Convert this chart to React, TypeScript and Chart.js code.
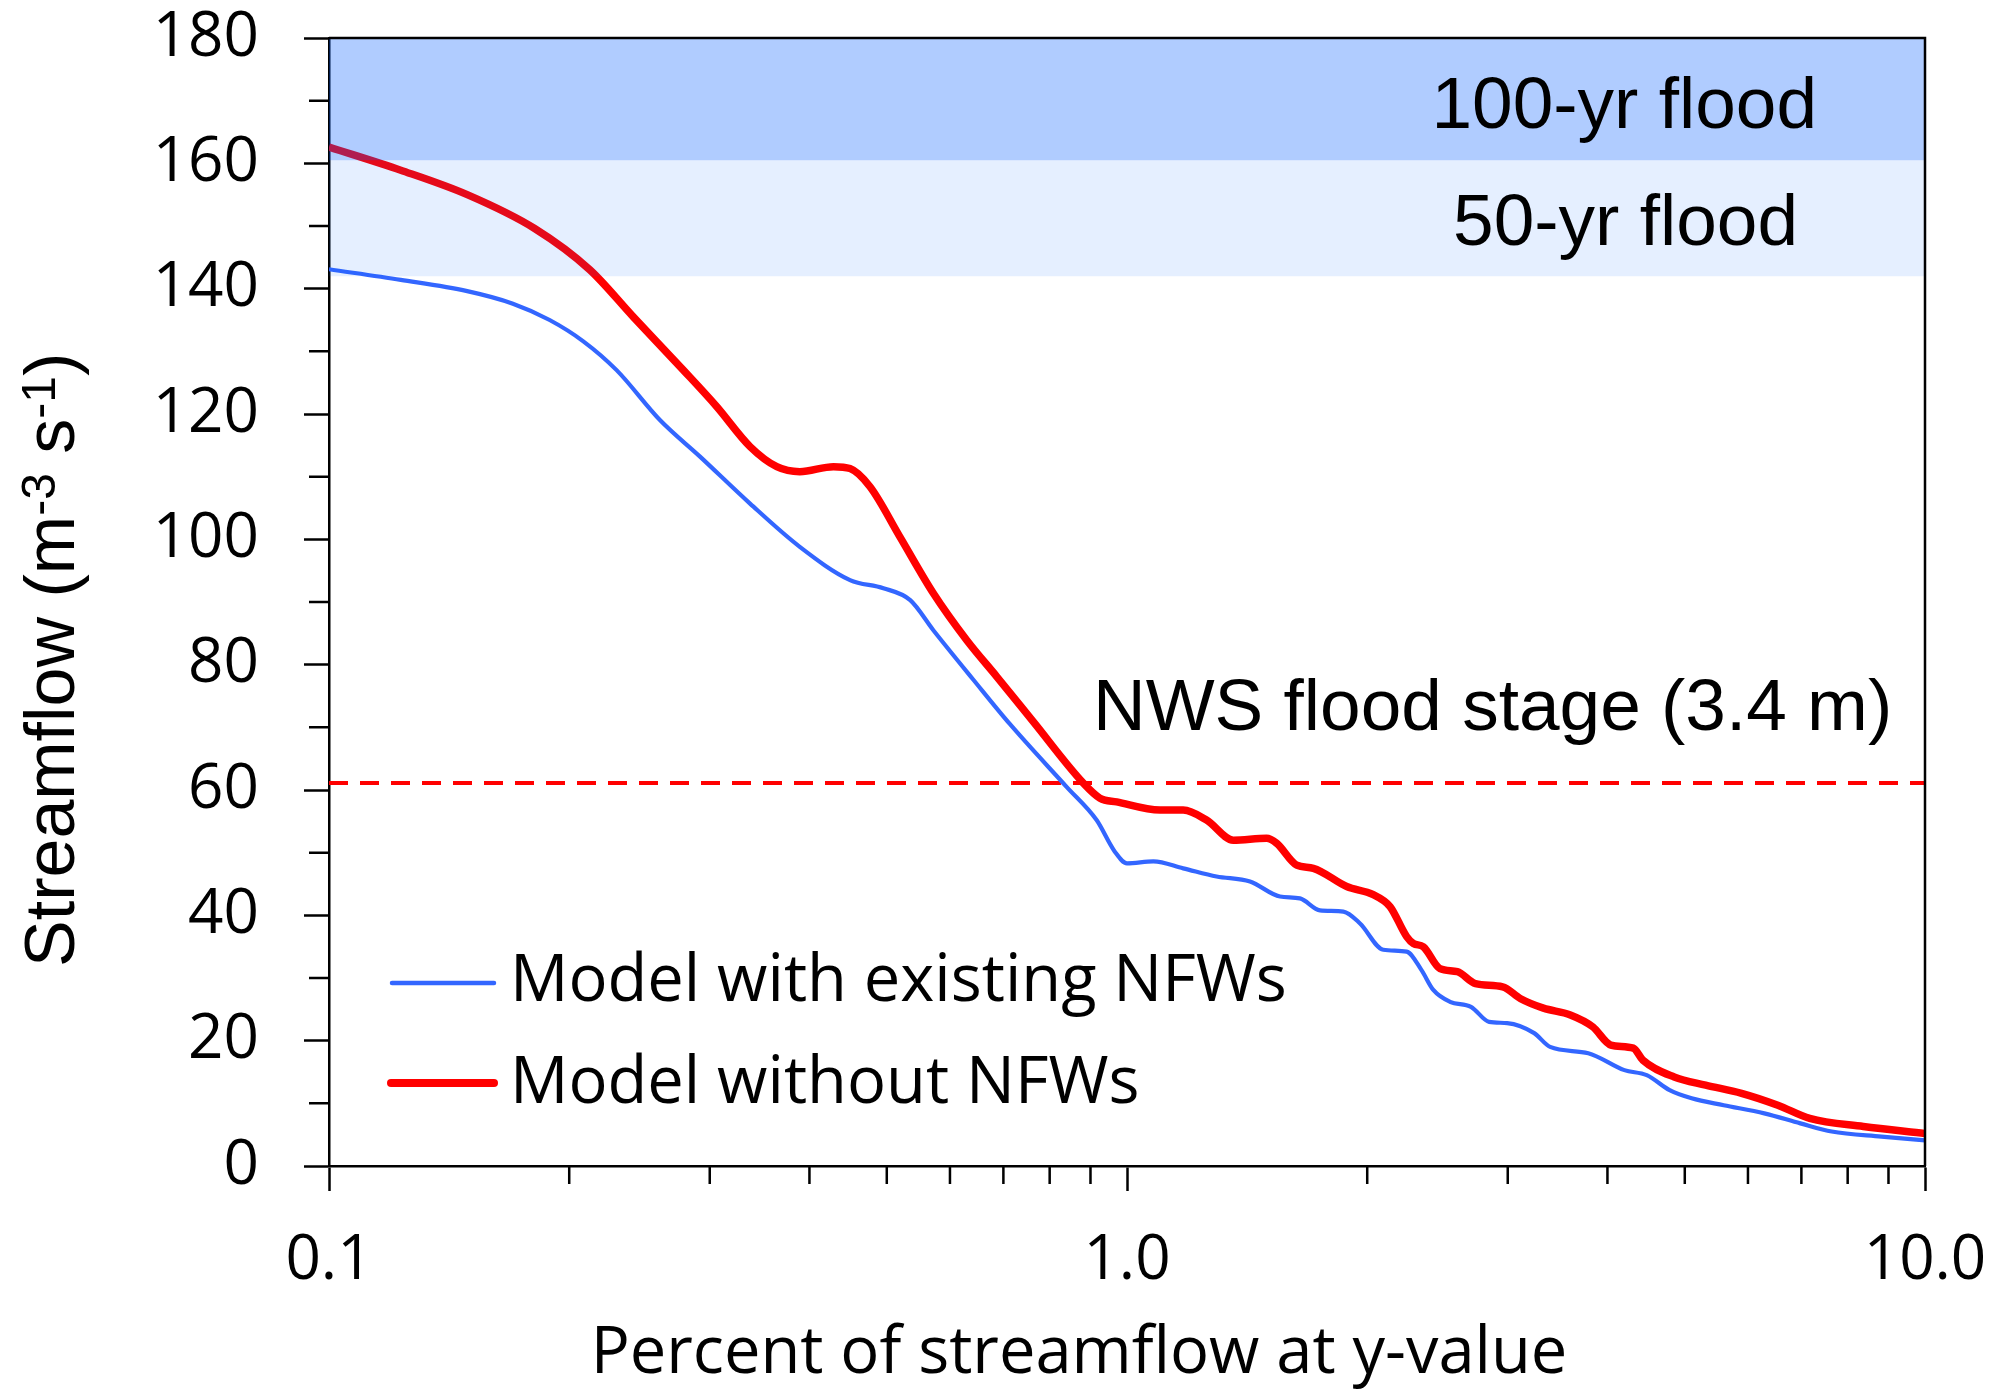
import React, { useEffect, useRef } from 'react';
import { Chart, registerables } from 'chart.js';

Chart.register(...registerables);

// ---------- data ----------
const RED_X = [0.1, 0.123, 0.149, 0.181, 0.2123, 0.2406, 0.278, 0.306, 0.337, 0.364, 0.389, 0.4287, 0.4497, 0.4764, 0.5193, 0.5719, 0.6298, 0.6866, 0.763, 0.8816, 0.925, 0.9707, 1.1, 1.176, 1.258, 1.359, 1.496, 1.54, 1.632, 1.712, 1.885, 2.035, 2.136, 2.241, 2.285, 2.351, 2.467, 2.594, 2.733, 2.956, 3.114, 3.325, 3.594, 3.835, 4.04, 4.31, 4.43, 4.85, 5.31, 5.89, 6.54, 7.17, 8.37, 10];
const RED_Y = [162.6, 158.9, 155.0, 149.6, 143.0, 135.5, 127.0, 121.2, 114.8, 111.6, 110.8, 111.6, 111.3, 108.4, 100.4, 91.4, 83.9, 78.1, 70.9, 61.1, 58.7, 58.1, 56.8, 56.8, 55.2, 52.0, 52.3, 51.5, 48.0, 47.5, 44.6, 43.3, 41.4, 36.6, 35.5, 35.0, 31.5, 31.0, 29.1, 28.6, 26.7, 25.2, 24.1, 22.2, 19.3, 18.8, 16.9, 14.2, 12.9, 11.6, 9.7, 7.6, 6.3, 5.2];

const BLUE_X = [0.1, 0.123, 0.149, 0.17, 0.189, 0.2083, 0.2293, 0.26, 0.2917, 0.337, 0.389, 0.4497, 0.4951, 0.535, 0.5719, 0.6419, 0.7135, 0.84, 0.916, 0.965, 1.0, 1.079, 1.176, 1.295, 1.426, 1.555, 1.647, 1.745, 1.867, 1.959, 2.095, 2.241, 2.338, 2.42, 2.54, 2.698, 2.843, 2.995, 3.238, 3.39, 3.785, 4.2, 4.48, 4.786, 5.1, 5.594, 6.29, 6.98, 7.64, 8.82, 10];
const BLUE_Y = [143.1, 141.4, 139.6, 137.6, 135.0, 131.6, 127.0, 119.0, 113.2, 105.7, 98.8, 93.5, 92.2, 90.3, 85.5, 77.6, 70.5, 60.5, 55.2, 50.2, 48.3, 48.6, 47.5, 46.2, 45.4, 43.0, 42.7, 40.8, 40.6, 38.7, 34.5, 34.2, 31.3, 28.1, 26.2, 25.4, 23.0, 22.8, 21.2, 19.0, 18.0, 15.3, 14.5, 12.1, 10.8, 9.7, 8.4, 6.8, 5.5, 4.7, 4.1];

const X_MIN = 0.1;
const X_MAX = 10;
const X_TICKS = [0.1, 0.2, 0.3, 0.4, 0.5, 0.6, 0.7, 0.8, 0.9, 1, 2, 3, 4, 5, 6, 7, 8, 9, 10];
const X_MAJOR = [0.1, 1, 10];
const X_MAJOR_LABELS = ['0.1', '1.0', '10.0'];

const Y_MIN = 0;
const Y_MAX = 180;
const Y_STEP = 10;
const Y_LABEL_STEP = 20;

const FLOOD_STAGE = 61.1;
const BAND_50 = [142.0, 160.5];
const BAND_100 = [160.5, 180];

const SERIES_NAMES = ['Model with existing NFWs', 'Model without NFWs'];
const BAND_LABELS = ['100-yr flood', '50-yr flood'];
const STAGE_LABEL = 'NWS flood stage (3.4 m)';
const X_TITLE = 'Percent of streamflow at y-value';
const Y_TITLE_PARTS: [string, boolean][] = [['Streamflow (m', false], ['-3', true], [' s', false], ['-1', true], [')', false]];

// ---------- styles ----------
const W = 2007;
const H = 1398;
const BLUE = '#3366ff';
const RED = '#ff0000';
const SANS = '"Liberation Sans", Arial, sans-serif';
const CAL = '"Open Sans", sans-serif';

const isMajorX = (v: number) => X_MAJOR.some((m) => Math.abs(m - v) < 1e-9);

const decorPlugin = {
  id: 'decor',
  afterDraw(chart: any) {
    const { ctx, chartArea: a, scales } = chart;
    const xs = scales.x;
    const ys = scales.y;
    ctx.save();
    // frame top/right
    ctx.strokeStyle = '#000';
    ctx.lineWidth = 2.5;
    ctx.beginPath();
    ctx.moveTo(a.left, a.top);
    ctx.lineTo(a.right, a.top);
    ctx.lineTo(a.right, a.bottom);
    ctx.stroke();
    // minor ticks
    ctx.beginPath();
    X_TICKS.forEach((v) => {
      if (!isMajorX(v)) {
        const p = xs.getPixelForValue(v);
        ctx.moveTo(p, a.bottom);
        ctx.lineTo(p, a.bottom + 18);
      }
    });
    for (let v = Y_MIN; v <= Y_MAX; v += Y_STEP) {
      if (v % Y_LABEL_STEP !== 0) {
        const p = ys.getPixelForValue(v);
        ctx.moveTo(a.left - 20, p);
        ctx.lineTo(a.left, p);
      }
    }
    ctx.stroke();

    // band labels & stage label
    ctx.fillStyle = '#000';
    ctx.font = `73px ${SANS}`;
    ctx.textBaseline = 'alphabetic';
    ctx.textAlign = 'right';
    ctx.fillText(BAND_LABELS[0], a.right - 108, a.top + 90);
    ctx.fillText(BAND_LABELS[1], a.right - 127, a.top + 207);
    ctx.textAlign = 'left';
    ctx.fillText(STAGE_LABEL, 1093, ys.getPixelForValue(FLOOD_STAGE) - 53);

    // legend
    ctx.lineCap = 'round';
    ctx.strokeStyle = BLUE;
    ctx.lineWidth = 4.5;
    ctx.beginPath();
    ctx.moveTo(392, 983);
    ctx.lineTo(494, 983);
    ctx.stroke();
    ctx.strokeStyle = RED;
    ctx.lineWidth = 8;
    ctx.beginPath();
    ctx.moveTo(391, 1083);
    ctx.lineTo(494, 1083);
    ctx.stroke();
    ctx.font = `65px ${CAL}`;
    ctx.fillStyle = '#000';
    ctx.fillText(SERIES_NAMES[0], 510, 1001);
    ctx.fillText(SERIES_NAMES[1], 510, 1103);

    // x title
    ctx.textAlign = 'center';
    ctx.font = `65px ${CAL}`;
    ctx.fillText(X_TITLE, (a.left + a.right) / 2 - 48, 1373);

    // y title (rotated, with superscripts)
    ctx.translate(74, 967);
    ctx.rotate(-Math.PI / 2);
    ctx.textAlign = 'left';
    let x = 0;
    Y_TITLE_PARTS.forEach(([t, sup]) => {
      ctx.font = sup ? `48px ${SANS}` : `70px ${SANS}`;
      ctx.fillText(t, x, sup ? -19 : 0);
      x += ctx.measureText(t).width;
    });
    ctx.restore();
  },
};

export default function App() {
  const ref = useRef<HTMLCanvasElement | null>(null);

  useEffect(() => {
    if (!ref.current) return;
    const flat = (y: number) => [{ x: X_MIN, y }, { x: X_MAX, y }];
    const chart = new Chart(ref.current, {
      type: 'line',
      data: {
        datasets: [
          {
            label: 'band100',
            data: flat(BAND_100[1]),
            fill: { value: BAND_100[0] },
            backgroundColor: 'rgba(0, 90, 255, 0.31)',
            borderWidth: 0,
            pointRadius: 0,
            order: 0,
          },
          {
            label: 'band50',
            data: flat(BAND_50[1]),
            fill: { value: BAND_50[0] },
            backgroundColor: 'rgba(0, 95, 255, 0.10)',
            borderWidth: 0,
            pointRadius: 0,
            order: 0,
          },
          {
            label: SERIES_NAMES[1],
            data: RED_X.map((x, i) => ({ x, y: RED_Y[i] })),
            borderColor: RED,
            borderWidth: 7.5,
            pointRadius: 0,
            fill: false,
            cubicInterpolationMode: 'monotone',
            order: 1,
          },
          {
            label: SERIES_NAMES[0],
            data: BLUE_X.map((x, i) => ({ x, y: BLUE_Y[i] })),
            borderColor: BLUE,
            borderWidth: 4.2,
            pointRadius: 0,
            fill: false,
            cubicInterpolationMode: 'monotone',
            order: 2,
          },
          {
            label: 'stage',
            data: flat(FLOOD_STAGE),
            borderColor: RED,
            borderWidth: 4,
            borderDash: [19, 12],
            pointRadius: 0,
            fill: false,
            order: 3,
          },
        ],
      },
      options: {
        responsive: false,
        animation: false,
        devicePixelRatio: 1,
        layout: { padding: { top: 38, right: 82, left: 0, bottom: 0 } },
        plugins: { legend: { display: false }, tooltip: { enabled: false } },
        scales: {
          x: {
            type: 'logarithmic',
            min: X_MIN,
            max: X_MAX,
            afterBuildTicks: (s: any) => {
              s.ticks = X_TICKS.map((v) => ({ value: v, major: isMajorX(v) }));
            },
            afterFit: (s: any) => {
              s.height = H - 1166;
              s.paddingLeft = 0;
              s.paddingRight = 0;
            },
            grid: {
              display: true,
              drawOnChartArea: false,
              drawTicks: true,
              tickLength: 25,
              tickWidth: 2.5,
              tickColor: (c: any) => (c.tick && isMajorX(c.tick.value) ? '#000' : 'rgba(0,0,0,0)'),
            },
            border: { display: true, color: '#000', width: 2.5 },
            ticks: {
              autoSkip: false,
              maxRotation: 0,
              minRotation: 0,
              padding: 33,
              color: '#000',
              font: { family: CAL, size: 62 },
              callback: (v: any) => {
                const i = X_MAJOR.findIndex((m) => Math.abs(m - Number(v)) < 1e-9);
                return i >= 0 ? X_MAJOR_LABELS[i] : '';
              },
            },
          },
          y: {
            type: 'linear',
            min: Y_MIN,
            max: Y_MAX,
            afterFit: (s: any) => {
              s.width = 329;
              s.paddingTop = 0;
              s.paddingBottom = 0;
            },
            grid: {
              display: true,
              drawOnChartArea: false,
              drawTicks: true,
              tickLength: 25,
              tickWidth: 2.5,
              tickColor: (c: any) => (c.tick && c.tick.value % Y_LABEL_STEP === 0 ? '#000' : 'rgba(0,0,0,0)'),
            },
            border: { display: true, color: '#000', width: 2.5 },
            ticks: {
              stepSize: Y_STEP,
              autoSkip: false,
              padding: 45,
              color: '#000',
              font: { family: CAL, size: 62 },
              callback: (v: any) => (Number(v) % Y_LABEL_STEP === 0 ? String(v) : ''),
            },
          },
        },
      },
      plugins: [decorPlugin],
    } as any);
    return () => chart.destroy();
  }, []);

  return (
    <div style={{ position: 'absolute', left: 0, top: 0, width: W, height: H, background: '#fff' }}>
      <canvas ref={ref} width={W} height={H} style={{ display: 'block', width: W, height: H }} />
    </div>
  );
}
